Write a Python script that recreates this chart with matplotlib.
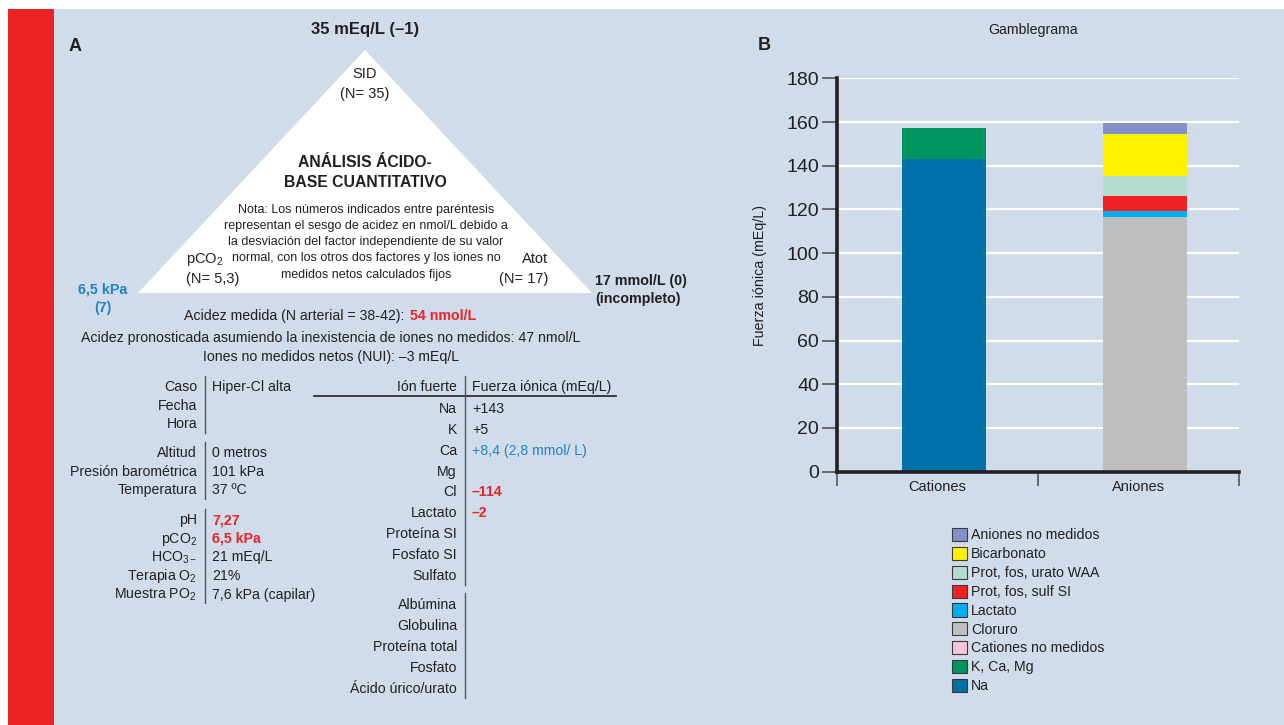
import numpy as np
import matplotlib
matplotlib.use("Agg")
import matplotlib.pyplot as plt
from matplotlib import font_manager as fm
from matplotlib.patches import Rectangle, Polygon


def pick_family(names):
    for name in names:
        try:
            fm.findfont(fm.FontProperties(family=name), fallback_to_default=False)
            return name
        except ValueError:
            continue
    return "DejaVu Sans"


FAMILY = pick_family(["Liberation Sans Narrow", "Liberation Sans", "DejaVu Sans"])
plt.rcParams["font.family"] = [FAMILY, "DejaVu Sans"]
plt.rcParams["mathtext.fontset"] = "custom"
plt.rcParams["mathtext.rm"] = FAMILY
plt.rcParams["mathtext.it"] = FAMILY
plt.rcParams["mathtext.bf"] = FAMILY + ":bold"
plt.rcParams["mathtext.default"] = "regular"

W, H = 1284, 725
BG = "#d0dce9"
RED = "#ed2224"
BLUE = "#2083c2"
INK = "#231f20"
FS = 10.2  # body text size

# --- Gamblegrama (panel B) ---
categorias = ["Cationes", "Aniones"]
componentes = [
    "Na", "K, Ca, Mg", "Cationes no medidos",
    "Cloruro", "Lactato", "Prot, fos, sulf SI",
    "Prot, fos, urato WAA", "Bicarbonato", "Aniones no medidos",
]
cationes = [143.0, 14.1, 0.0, 0.0, 0.0, 0.0, 0.0, 0.0, 0.0]
aniones = [0.0, 0.0, 0.0, 116.5, 2.8, 6.9, 9.3, 19.0, 5.1]
colores = [
    "#0071a9", "#009460", "#f6c3d9",
    "#bcbec0", "#00aeef", "#ee2224",
    "#b6dcd1", "#fff200", "#8490c8",
]
yticks = list(range(0, 181, 20))

# --- Panel A tables ---
datos_izq = [
    [("Caso", "Hiper-Cl alta"), ("Fecha", ""), ("Hora", "")],
    [("Altitud", "0 metros"), ("Presión barométrica", "101 kPa"), ("Temperatura", "37 ºC")],
    [("pH", "7,27"), ("pCO$_2$", "6,5 kPa"), ("HCO$_{3-}$", "21 mEq/L"),
     ("Terapia O$_2$", "21%"), ("Muestra PO$_2$", "7,6 kPa (capilar)")],
]
resaltado_izq = {"7,27", "6,5 kPa"}

iones = ["Na", "K", "Ca", "Mg", "Cl", "Lactato", "Proteína SI", "Fosfato SI", "Sulfato"]
fuerza = ["+143", "+5", "+8,4 (2,8 mmol/ L)", "", "–114", "–2", "", "", ""]
estilo_fuerza = ["n", "n", "blue", "n", "red", "red", "n", "n", "n"]
proteinas = ["Albúmina", "Globulina", "Proteína total", "Fosfato", "Ácido úrico/urato"]

nota = [
    "Nota: Los números indicados entre paréntesis",
    "representan el sesgo de acidez en nmol/L debido a",
    "la desviación del factor independiente de su valor",
    "normal, con los otros dos factores y los iones no",
    "medidos netos calculados fijos",
]

fig = plt.figure(figsize=(W / 100, H / 100), dpi=100, facecolor="white")

bg = fig.add_axes([0, 0, 1, 1], zorder=0)
bg.set_xlim(0, W)
bg.set_ylim(H, 0)
bg.axis("off")
bg.add_patch(Rectangle((8, 9), W - 8, H - 9, color=BG, lw=0))
bg.add_patch(Rectangle((8, 9), 46, H - 9, color=RED, lw=0))


def t(x, y, s, size=FS, ha="center", color=INK, weight="normal", **kw):
    # y is the visual middle of the capitals; place the baseline from it
    yb = y + 0.36 * size * 1.389
    return bg.text(x, yb, s, fontsize=size, ha=ha, va="baseline", color=color,
                   fontweight=weight, **kw)


# panel A: triangle and headline values
t(75, 44, "A", size=13, weight="bold")
t(365, 28, "35 mEq/L (–1)", size=12, weight="bold")
bg.add_patch(Polygon([(365, 50), (138, 293), (592, 293)], closed=True,
                     facecolor="white", edgecolor="none"))
t(365, 73, "SID", size=10.5)
t(365, 93, "(N= 35)", size=10.5)
t(365, 161, "ANÁLISIS ÁCIDO-", size=11.3, weight="bold")
t(365, 181, "BASE CUANTITATIVO", size=11.3, weight="bold")
for i, linea in enumerate(nota):
    t(366, 208 + i * 16.3, linea, size=9.0)
t(186, 258, "pCO$_2$", ha="left", size=10.5)
t(186, 278, "(N= 5,3)", ha="left", size=10.5)
t(548, 258, "Atot", ha="right", size=10.5)
t(548, 278, "(N= 17)", ha="right", size=10.5)
t(103, 288, "6,5 kPa", size=10.3, color=BLUE, weight="bold")
t(103, 307, "(7)", size=10.3, color=BLUE, weight="bold")
t(595, 280, "17 mmol/L (0)", ha="left", size=10.3, weight="bold")
t(595, 298, "(incompleto)", ha="left", size=10.3, weight="bold")

t(408, 315, "Acidez medida (N arterial = 38-42): ", ha="right")
t(410, 315, "54 nmol/L", ha="left", color=RED, weight="bold")
t(331, 337, "Acidez pronosticada asumiendo la inexistencia de iones no medidos: 47 nmol/L")
t(331, 356, "Iones no medidos netos (NUI): –3 mEq/L")

# left table
y0 = [386, 452, 519]
for grupo, ystart in zip(datos_izq, y0):
    for j, (lab, val) in enumerate(grupo):
        y = ystart + j * 18.6
        t(197, y, lab, ha="right")
        if val in resaltado_izq:
            t(212, y, val, ha="left", color=RED, weight="bold")
        else:
            t(212, y, val, ha="left")
    top = ystart - 10
    bot = ystart + (len(grupo) - 1) * 18.6 + 10
    bg.plot([205, 205], [top, bot], color="#555555", lw=1)

# right table
t(457, 386, "Ión fuerte", ha="right")
t(472, 386, "Fuerza iónica (mEq/L)", ha="left")
bg.plot([314, 616], [396, 396], color=INK, lw=1.2)
for i, (ion, val, est) in enumerate(zip(iones, fuerza, estilo_fuerza)):
    y = 408 + i * 20.8
    t(457, y, ion, ha="right")
    if est == "red":
        t(472, y, val, ha="left", color=RED, weight="bold")
    elif est == "blue":
        t(472, y, val, ha="left", color=BLUE)
    else:
        t(472, y, val, ha="left")
bg.plot([465, 465], [376, 585], color="#555555", lw=1)
for i, prot in enumerate(proteinas):
    t(457, 603.5 + i * 21, prot, ha="right")
bg.plot([465, 465], [593, 698], color="#555555", lw=1)

# panel B labels
t(764, 43, "B", size=13, weight="bold")
t(1033, 29, "Gamblegrama", size=10.2)

# --- stacked bars ---
ax = fig.add_axes([837 / W, 1 - 471.7 / H, 402 / W, 393.4 / H], zorder=2)
ax.set_facecolor("none")
pos = np.arange(len(categorias)) + 0.5
xbar = pos + 0.03
valores = np.array([cationes, aniones]).T
base = np.zeros(len(categorias))
handles = []
for nombre, fila, color in zip(componentes, valores, colores):
    b = ax.bar(xbar, fila, width=0.418, bottom=base, color=color, linewidth=0, label=nombre)
    handles.append(b)
    base = base + fila

ax.set_xlim(0, 2)
ax.set_ylim(0, 180)
ax.set_yticks(yticks)
ax.yaxis.grid(True, color="white", linewidth=1.6)
ax.set_axisbelow(True)
ax.set_xticks([0, 1, 2])
ax.set_xticklabels([])
ax.set_xticks(pos, minor=True)
ax.set_xticklabels(categorias, minor=True)
ax.tick_params(axis="x", which="major", length=10, width=1.2, color="#555555", direction="out")
ax.tick_params(axis="x", which="minor", length=0, labelsize=10.5, labelcolor=INK, pad=6)
ax.tick_params(axis="y", length=11, width=1.2, color="#555555", labelsize=14, labelcolor=INK, pad=2)
for s in ("top", "right"):
    ax.spines[s].set_visible(False)
for s in ("left", "bottom"):
    ax.spines[s].set_linewidth(2.6)
    ax.spines[s].set_color(INK)
ax.set_ylabel("Fuerza iónica (mEq/L)", fontsize=10.3, color=INK, labelpad=14)

leg = ax.legend(handles[::-1], componentes[::-1], loc="upper left",
                bbox_to_anchor=(952 / W, 1 - 528 / H), bbox_transform=fig.transFigure,
                frameon=False, fontsize=10.2, handlelength=1.06, handleheight=1.06,
                handletextpad=0.3, labelspacing=0.31, borderpad=0, borderaxespad=0)
for p in leg.get_patches():
    p.set_edgecolor("#3a3a3a")
    p.set_linewidth(0.8)
for txt in leg.get_texts():
    txt.set_color(INK)

fig.savefig("out.png", dpi=100, facecolor="white")
